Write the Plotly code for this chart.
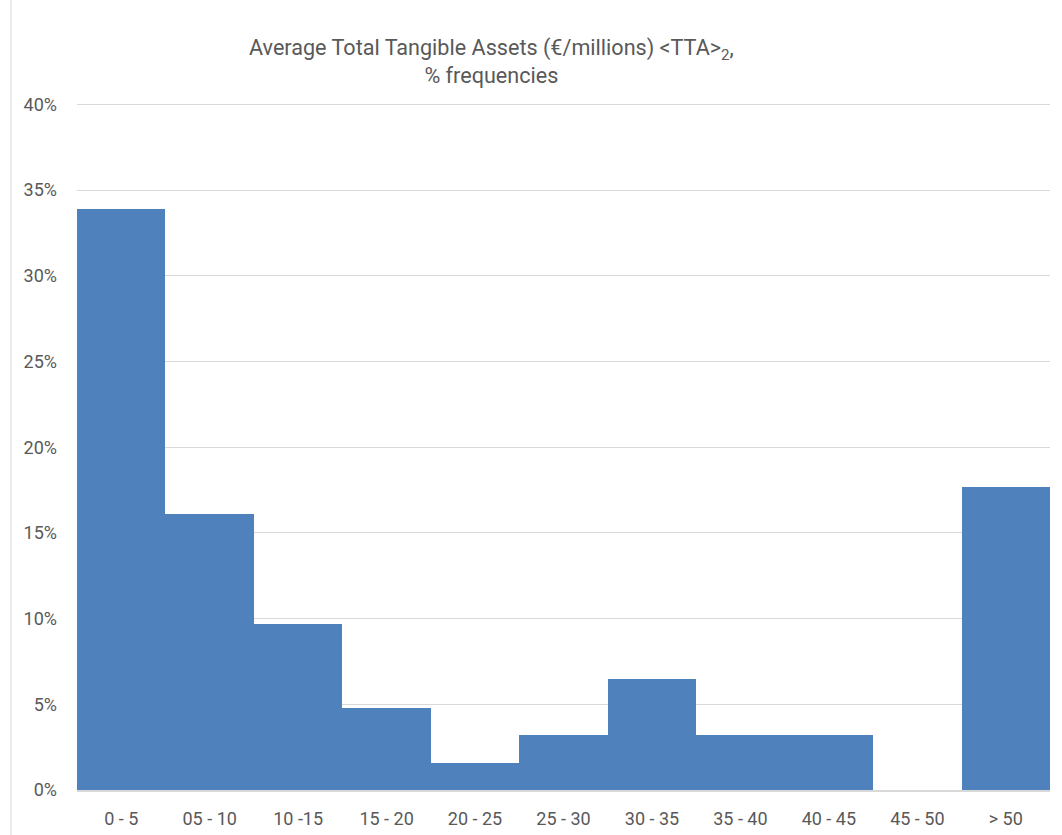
import plotly.graph_objects as go

categories = ["0 - 5", "05 - 10", "10 -15", "15 - 20", "20 - 25", "25 - 30",
              "30 - 35", "35 - 40", "40 - 45", "45 - 50", "> 50"]
frequencies = [33.9, 16.1, 9.7, 4.8, 1.6, 3.2, 6.5, 3.2, 3.2, 0.0, 17.7]
y_ticks = [0, 5, 10, 15, 20, 25, 30, 35, 40]
y_tick_labels = [f"{v}%" for v in y_ticks]

W, H = 1062, 835
L, R, T, B = 77, 12, 103, 45
text_color = "#595959"
font_family = "Roboto, Arial, sans-serif"

fig = go.Figure(go.Bar(
    x=categories,
    y=frequencies,
    marker=dict(color="#4F81BD", line=dict(width=0)),
    width=1.0,
))

plot_w = W - L - R
plot_h = H - T - B

fig.update_layout(
    width=W, height=H,
    margin=dict(l=L, r=R, t=T, b=B),
    plot_bgcolor="white",
    paper_bgcolor="white",
    showlegend=False,
    bargap=0,
    font=dict(family=font_family, color=text_color, size=18),
    xaxis=dict(
        automargin=False,
        showgrid=False,
        showline=True, linecolor="#D9D9D9", linewidth=2,
        ticks="", tickfont=dict(size=18, color=text_color),
        ticklabelstandoff=11,
        fixedrange=True,
    ),
    yaxis=dict(
        automargin=False,
        range=[0, 40.08],
        tickvals=y_ticks, ticktext=y_tick_labels,
        showgrid=True, gridcolor="#D9D9D9", gridwidth=1,
        zeroline=False, showline=False, ticks="",
        ticklabelstandoff=19,
        tickfont=dict(size=18, color=text_color),
        fixedrange=True,
    ),
    annotations=[dict(
        text="Average Total Tangible Assets (€/millions) &lt;TTA&gt;<sub>2</sub>,<br>% frequencies",
        xref="paper", yref="paper",
        x=(491 - L) / plot_w, y=(H - 61 - B) / plot_h,
        xanchor="center", yanchor="middle",
        showarrow=False,
        font=dict(size=21.6, color=text_color, family=font_family),
    )],
    shapes=[dict(
        type="line", xref="paper", yref="paper",
        x0=(11 - L) / plot_w, x1=(11 - L) / plot_w,
        y0=-B / plot_h, y1=(H - B) / plot_h,
        line=dict(color="#D9D9D9", width=1),
    )],
)

fig.write_html("out.html")
